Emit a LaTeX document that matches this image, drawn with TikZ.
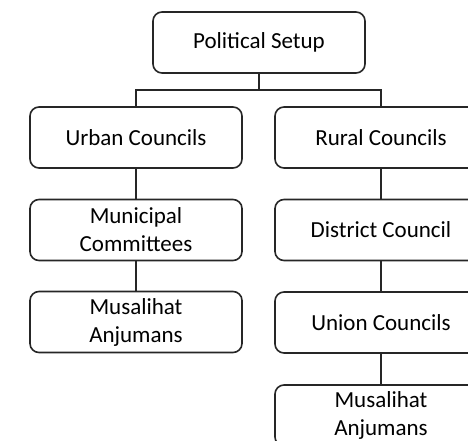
\documentclass[tikz,border=0pt]{standalone}
\usepackage{fontspec}
\setmainfont{Carlito}
\begin{document}
\begin{tikzpicture}[x=1pt,y=-1pt,
  box/.style={draw=black!85, line width=1.6pt, rounded corners=9pt, minimum width=212pt, minimum height=61pt, align=center, font=\fontsize{23}{28}\selectfont, inner sep=0pt},
  conn/.style={draw=black!85, line width=1.6pt}]
\useasboundingbox (0,0) rectangle (468,441);
\begin{scope}
\clip (0,0) rectangle (468,441);
\node[box] (top) at (259,42.5) {Political Setup};
\node[box] (urban) at (136,137.5) {Urban Councils};
\node[box] (rural) at (381,137.5) {Rural Councils};
\node[box] (mun) at (136,230) {Municipal\\Committees};
\node[box] (dist) at (381,230) {District Council};
\node[box] (musl) at (136,322) {Musalihat\\Anjumans};
\node[box] (union) at (381,322.5) {Union Councils};
\node[box] (musr) at (381,415.5) {Musalihat\\Anjumans};
\coordinate (j) at (259,90);
\draw[conn] (top.south) -- (j);
\draw[conn] (urban.north) |- (j) -| (rural.north);
\draw[conn] (urban) -- (mun);
\draw[conn] (mun) -- (musl);
\draw[conn] (rural) -- (dist);
\draw[conn] (dist) -- (union);
\draw[conn] (union) -- (musr);
\end{scope}
\end{tikzpicture}
\end{document}
